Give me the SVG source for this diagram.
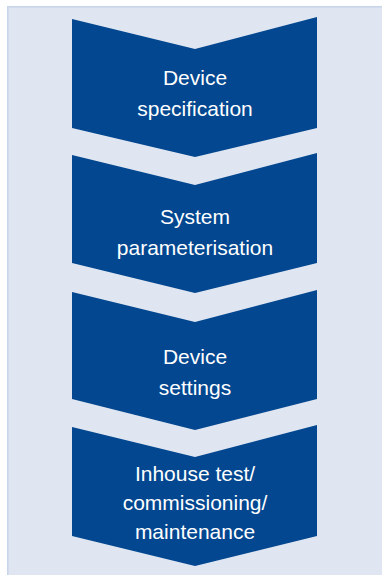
<svg xmlns="http://www.w3.org/2000/svg" width="382" height="575" viewBox="0 0 382 575">
<style>
.chev{fill:#02478f;}
.lbl{fill:#ffffff;font-family:"Liberation Sans",Arial,sans-serif;font-size:21px;text-anchor:middle;}
</style>
<rect x="0" y="0" width="382" height="575" fill="#ffffff"/>
<rect x="7.75" y="6.75" width="380" height="575" fill="#dfe5f1" stroke="#c8d4ea" stroke-width="1.5"/>
<g id="connectors"></g>
<g id="step1">
<polygon class="chev" points="72,19 195,49 317,17 317,128 195,157 72,128"/>
<text class="lbl" x="195" y="85">Device</text>
<text class="lbl" x="195" y="116">specification</text>
</g>
<g id="step2">
<polygon class="chev" points="72,155 195,185 317,153 317,263 195,293 72,263"/>
<text class="lbl" x="195" y="224">System</text>
<text class="lbl" x="195" y="255">parameterisation</text>
</g>
<g id="step3">
<polygon class="chev" points="72,292 195,322 317,290 317,399 195,430 72,399"/>
<text class="lbl" x="195" y="364">Device</text>
<text class="lbl" x="195" y="395">settings</text>
</g>
<g id="step4">
<polygon class="chev" points="72,427 195,457 317,425 317,536 195,566 72,536"/>
<text class="lbl" x="195" y="481">Inhouse test/</text>
<text class="lbl" x="195" y="510">commissioning/</text>
<text class="lbl" x="195" y="539">maintenance</text>
</g>
</svg>
